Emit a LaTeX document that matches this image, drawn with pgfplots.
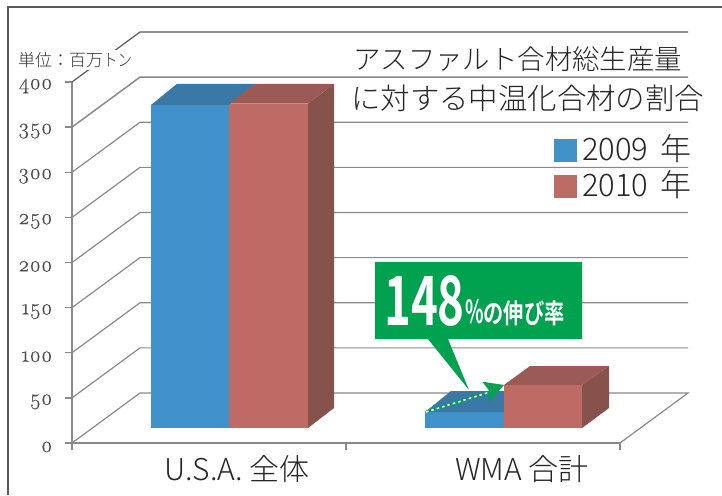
\documentclass[border=0pt]{standalone}
\usepackage{fontspec}
\usepackage{pgfplots}
\pgfplotsset{compat=1.18}
\setmainfont{Noto Sans CJK JP}
\newfontfamily\cjk{Noto Sans CJK JP Light}
\newfontfamily\cjkb{Noto Sans CJK JP Bold}
\newfontfamily\tickfont[Numbers=OldStyle,FakeBold=0.35]{Latin Modern Roman}
\definecolor{fBlue}{HTML}{4191CB}
\definecolor{tBlue}{HTML}{3A78A6}
\definecolor{fRed}{HTML}{BE6A65}
\definecolor{tRed}{HTML}{9A5B57}
\definecolor{sRed}{HTML}{87524C}
\definecolor{gridc}{HTML}{8A8A8A}
\definecolor{green1}{HTML}{00A24F}
\begin{document}
\begin{tikzpicture}
\path[use as bounding box,clip] (-72pt,-52pt) rectangle (650pt,443pt);
\fill[white] (-72pt,-52pt) rectangle (650pt,443pt);
\begin{axis}[
  scale only axis, width=548pt, height=361pt,
  xmin=72, xmax=620, ymin=0, ymax=400,
  clip=false,
  axis x line*=bottom, axis y line*=left,
  axis line style={gridc,line width=1.3pt},
  tick style={gridc,line width=1.3pt},
  tick align=outside,
  major tick length=7pt,
  ytick={0,50,...,400},
  xtick={72,346,620}, xticklabels={,,},
  extra x ticks={237,522},
  extra x tick labels={{\cjk U.S.A. 全体},{\cjk WMA 合計}},
  extra x tick style={major tick length=0pt,
     tick label style={font=\fontsize{30}{30}\selectfont,text=black!85,yshift=-9pt}},
  /pgf/number format/assume math mode=true,
  y tick label style={font=\tickfont\fontsize{22}{22}\selectfont,text=black!70,xshift=-9pt,yshift=-4pt},
  legend style={at={(axis cs:554,342)},anchor=north west,draw=none,fill=none,
     row sep=9pt,inner sep=0pt,font=\cjk\fontsize{31}{31}\selectfont,
     text=black!85,
     nodes={inner sep=0pt,anchor=base west}},
  legend cell align=left,
  legend image code/.code={\fill[#1] (0pt,-1pt) rectangle (23pt,22pt);\path (0pt,0pt) -- (28pt,0pt);},
]
% frame (left and top only)
\addplot[black!65,line width=1.2pt,forget plot] coordinates {(8,-57.6)(8,483.1)(722,483.1)};
% walls and floor: one line per value
\addplot[gridc,line width=1.2pt,forget plot] coordinates {(72,0)(140,55.4)(688,55.4)(620,0)};
\addplot[gridc,line width=1.2pt,forget plot] coordinates {(72,50)(140,105.4)(688,105.4)};
\addplot[gridc,line width=1.2pt,forget plot] coordinates {(72,100)(140,155.4)(688,155.4)};
\addplot[gridc,line width=1.2pt,forget plot] coordinates {(72,150)(140,205.4)(688,205.4)};
\addplot[gridc,line width=1.2pt,forget plot] coordinates {(72,200)(140,255.4)(688,255.4)};
\addplot[gridc,line width=1.2pt,forget plot] coordinates {(72,250)(140,305.4)(688,305.4)};
\addplot[gridc,line width=1.2pt,forget plot] coordinates {(72,300)(140,355.4)(688,355.4)};
\addplot[gridc,line width=1.5pt,forget plot] coordinates {(72,350)(140,405.4)(688,405.4)};
\addplot[black!65,line width=1.2pt,forget plot] coordinates {(72,400)(140,455.4)(688,455.4)};
% U.S.A.
\addplot[fill=fBlue,draw=none] coordinates {(151,16.6)(229,16.6)(229,374.5)(151,374.5)};
\addlegendentry{2009\hspace{12pt}年}
\addplot[fill=fRed,draw=none] coordinates {(229,16.6)(308,16.6)(308,376)(229,376)};
\addlegendentry{2010\hspace{12pt}年}
\addplot[fill=tBlue,draw=none,forget plot] coordinates {(151,374.5)(229,374.5)(255,398)(177,398)};
\addplot[fill=tRed,draw=none,forget plot] coordinates {(229,376)(308,376)(334,398)(255,398)};
\addplot[fill=sRed,draw=none,forget plot] coordinates {(308,16.6)(334,38.8)(334,398)(308,376)};
% WMA
\addplot[fill=fBlue,draw=none,forget plot] coordinates {(425,16.6)(504,16.6)(504,34.3)(425,34.3)};
\addplot[fill=tBlue,draw=none,forget plot] coordinates {(425,34.3)(504,34.3)(530,57.6)(451,57.6)};
\addplot[fill=fRed,draw=none,forget plot] coordinates {(504,16.6)(582,16.6)(582,64.3)(504,64.3)};
\addplot[fill=tRed,draw=none,forget plot] coordinates {(504,64.3)(582,64.3)(609,85.3)(530,85.3)};
\addplot[fill=sRed,draw=none,forget plot] coordinates {(582,16.6)(609,38.8)(609,85.3)(582,64.3)};
% callout
\addplot[fill=green1,draw=none,forget plot] coordinates {(375,200.6)(582,200.6)(582,115.2)(448,115.2)(469,58.7)(428,115.2)(375,115.2)};
% growth arrow
\addplot[green1,line width=2.6pt,forget plot] coordinates {(426,34.3)(490,56.5)};
\addplot[white,line width=1.5pt,dash pattern=on 2.6pt off 3pt,forget plot] coordinates {(426,34.3)(488,55.8)};
\addplot[fill=green1,draw=none,forget plot] coordinates {(482.3,67.9)(504,64.3)(488.3,44.7)(490,56.8)};
% texts
\node[anchor=west,inner sep=0pt,fill=white,font=\cjk\fontsize{17}{17}\selectfont,text=black!80,inner ysep=2pt] at (axis cs:18,424.4) {単位：百万\scalebox{0.85}[1]{トン}};
\node[anchor=west,inner sep=0pt,font=\cjk\fontsize{27.4}{27.4}\selectfont,text=black!85] at (axis cs:353,425.5) {アスファルト合材総生産量};
\node[anchor=west,inner sep=0pt,font=\cjk\fontsize{29.4}{29.4}\selectfont,text=black!85] at (axis cs:351,382.3) {に対する中温化合材の割合};
\node[anchor=west,inner sep=0pt,text=white] at (axis cs:384,157.3) {\scalebox{0.67}[1]{\cjkb\fontsize{68}{68}\selectfont 148}};
\node[anchor=west,inner sep=0pt,text=white] at (axis cs:465,144) {\scalebox{0.75}[1]{\cjkb\fontsize{27}{27}\selectfont\scalebox{0.8}[1]{\fontsize{32}{32}\selectfont\%}の伸び率}};
\end{axis}
\end{tikzpicture}
\end{document}
